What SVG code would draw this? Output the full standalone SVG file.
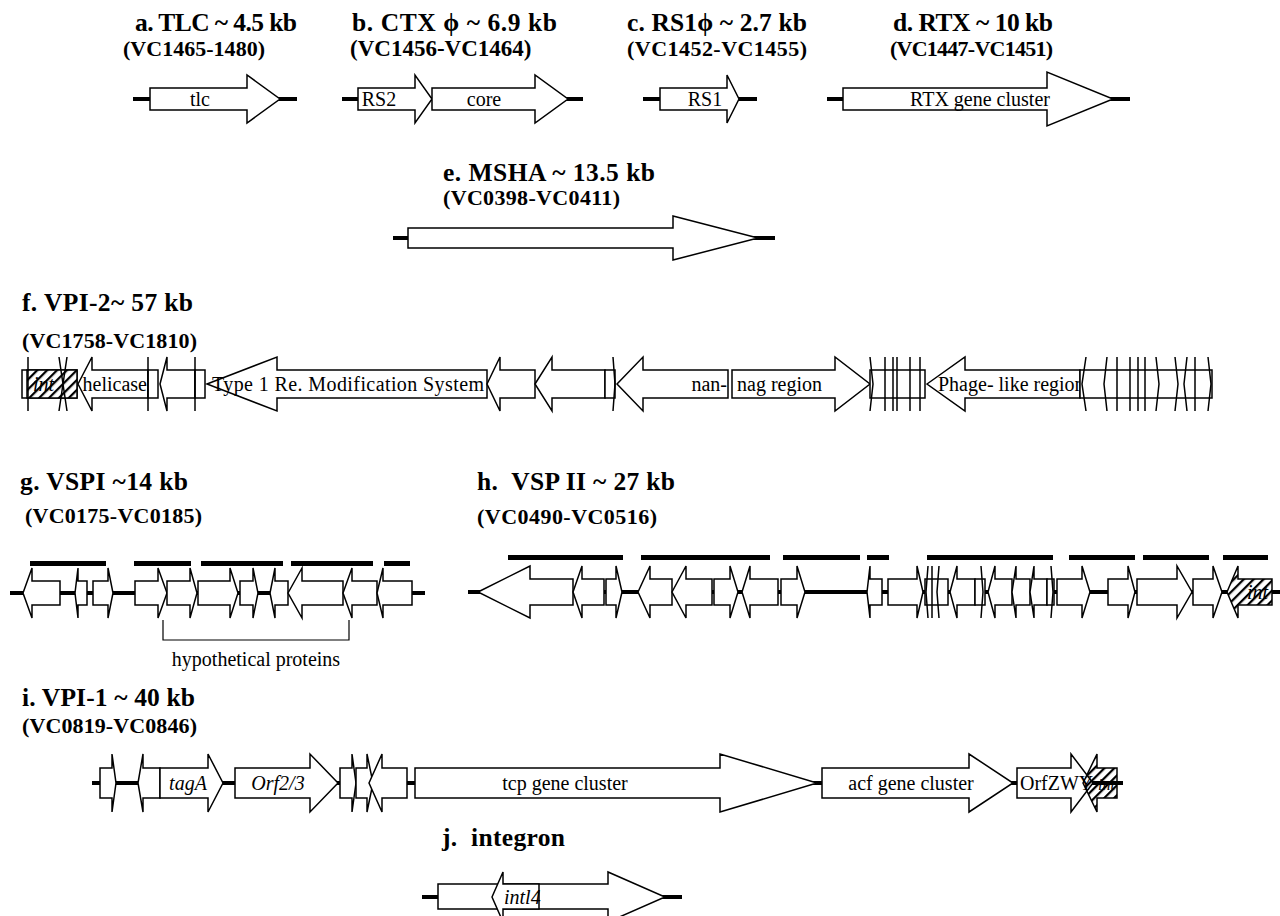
<svg xmlns="http://www.w3.org/2000/svg" width="1280" height="916" viewBox="0 0 1280 916">
<style>
.g{fill:#fff;stroke:#000;stroke-width:1.5;stroke-linejoin:miter}
.h{fill:url(#hatch);stroke:#000;stroke-width:1.5}
.h2{fill:url(#hatch2);stroke:#000;stroke-width:1.5}
.ln{stroke:#000;stroke-width:4;fill:none}
.tk{stroke:#000;stroke-width:1.5;fill:none}
.bar{fill:#000}
.t{font-family:"Liberation Serif","DejaVu Serif",serif;font-weight:bold;font-size:25.5px;white-space:pre}
.s{font-family:"Liberation Serif","DejaVu Serif",serif;font-weight:bold;font-size:22px}
.l{font-family:"Liberation Serif","DejaVu Serif",serif;font-size:20px}
.it{font-style:italic}
</style>
<defs>
<pattern id="hatch" patternUnits="userSpaceOnUse" width="7" height="7" patternTransform="rotate(45)"><rect width="7" height="7" fill="#fff"/><line x1="1" y1="0" x2="1" y2="7" stroke="#000" stroke-width="2.5"/></pattern>
<pattern id="hatch2" patternUnits="userSpaceOnUse" width="7" height="7" patternTransform="rotate(45)"><line x1="1" y1="0" x2="1" y2="7" stroke="#000" stroke-width="2.5"/></pattern>
</defs>
<rect width="1280" height="916" fill="#fff"/>

<g id="connectors">
<line class="ln" x1="133" y1="99" x2="297" y2="99"/>
<line class="ln" x1="342" y1="99" x2="583" y2="99"/>
<line class="ln" x1="643" y1="99" x2="757" y2="99"/>
<line class="ln" x1="827" y1="99" x2="1130" y2="99"/>
<line class="ln" x1="393" y1="238" x2="775" y2="238"/>
<line class="ln" x1="10" y1="593" x2="425" y2="593"/>
<line class="ln" x1="468" y1="592" x2="1280" y2="592"/>
<line class="ln" x1="92" y1="783" x2="1123" y2="783"/>
<line class="ln" x1="422" y1="897" x2="682" y2="897"/>
</g>

<g id="a">
<text class="t" x="135" y="31" textLength="162">a. TLC ~ 4.5 kb</text>
<text class="s" x="123" y="56" textLength="142">(VC1465-1480)</text>
<polygon class="g" points="150,88 247,88 247,75 280,99 247,123 247,110 150,110"/>
<text class="l" x="200" y="106" text-anchor="middle">tlc</text>
</g>

<g id="b">
<text class="t" x="352" y="31" textLength="205">b. CTX ϕ ~ 6.9 kb</text>
<text class="s" x="350" y="56" style="font-size:23px">(VC1456-VC1464)</text>
<polygon class="g" points="358,88 415,88 415,75 432,99 415,123 415,110 358,110"/>
<polygon class="g" points="432,88 535,88 535,75 568,99 535,123 535,110 432,110"/>
<text class="l" x="379" y="106" text-anchor="middle">RS2</text>
<text class="l" x="484" y="106" text-anchor="middle">core</text>
</g>

<g id="c">
<text class="t" x="627" y="31" textLength="180">c. RS1ϕ ~ 2.7 kb</text>
<text class="s" x="627" y="56" textLength="180">(VC1452-VC1455)</text>
<polygon class="g" points="660,88 727,88 727,75 739,99 727,123 727,110 660,110"/>
<text class="l" x="705" y="106" text-anchor="middle">RS1</text>
</g>

<g id="d">
<text class="t" x="893" y="31" textLength="160">d. RTX ~ 10 kb</text>
<text class="s" x="890" y="56" textLength="163">(VC1447-VC1451)</text>
<polygon class="g" points="843,88 1047,88 1047,72 1113,99 1047,126 1047,110 843,110"/>
<text class="l" x="980" y="106" text-anchor="middle">RTX gene cluster</text>
</g>

<g id="e">
<text class="t" x="443" y="181" textLength="212">e. MSHA ~ 13.5 kb</text>
<text class="s" x="443" y="205" textLength="177">(VC0398-VC0411)</text>
<polygon class="g" points="408,228 673,228 673,216 758,238 673,260 673,248 408,248"/>
</g>

<g id="f">
<text class="t" x="22" y="311" textLength="171">f. VPI-2~ 57 kb</text>
<text class="s" x="22" y="348" textLength="175">(VC1758-VC1810)</text>
<rect class="g" x="22" y="370" width="55" height="28"/>
<rect class="h" x="27" y="370" width="50" height="28"/>
<text class="l it" x="33" y="391">int</text>
<path class="tk" d="M28,357 L28,411 M59,357 L67,411 M67,357 L59,411"/>
<polygon class="g" points="78,384 92,357 92,370 148,370 148,398 92,398 92,411"/>
<text class="l" x="147" y="391" text-anchor="end">helicase</text>
<rect class="g" x="148" y="370" width="10" height="28"/>
<path class="tk" d="M148,357 L148,411"/>
<polygon class="g" points="160,384 167,357 167,370 195,370 195,398 167,398 167,411"/>
<rect class="g" x="195" y="370" width="10" height="28"/>
<path class="tk" d="M195,357 L195,411"/>
<polygon class="g" points="207,384 277,357 277,370 487,370 487,398 277,398 277,411"/>
<text class="l" x="212" y="391" textLength="272">Type 1 Re. Modification System</text>
<polygon class="g" points="487,384 500,357 500,370 535,370 535,398 500,398 500,411"/>
<polygon class="g" points="535,384 552,357 552,370 605,370 605,398 552,398 552,411"/>
<rect class="g" x="605" y="370" width="10" height="28"/>
<path class="tk" d="M613,357 L615,384 L613,411"/>
<polygon class="g" points="617,384 643,357 643,370 728,370 728,398 643,398 643,411"/>
<text class="l" x="727" y="391" text-anchor="end">nan-</text>
<polygon class="g" points="732,370 835,370 835,357 870,384 835,411 835,398 732,398"/>
<text class="l" x="737" y="391">nag region</text>
<rect class="g" x="870" y="370" width="55" height="28"/>
<path class="tk" d="M870,357 L873,384 L870,411 M885,357 L885,411 M893,357 L893,411 M897,357 L897,411 M910,357 L910,411 M920,357 L920,411"/>
<polygon class="g" points="927,384 965,357 965,370 1080,370 1080,398 965,398 965,411"/>
<text class="l" x="938" y="391">Phage- like region</text>
<rect class="g" x="1080" y="370" width="132" height="28"/>
<path class="tk" d="M1086,357 L1082,384 L1086,411 M1107,357 L1104,384 L1107,411 M1117,357 L1117,411 M1130,357 L1130,411 M1138,357 L1138,411 M1145,357 L1145,411 M1156,357 L1159,384 L1156,411 M1175,357 L1178,384 L1175,411 M1187,357 L1184,384 L1187,411 M1195,357 L1195,411 M1208,357 L1211,384 L1208,411"/>
</g>

<g id="g">
<text class="t" x="20" y="490" textLength="168">g. VSPI ~14 kb</text>
<text class="s" x="25" y="523" textLength="177">(VC0175-VC0185)</text>
<rect class="bar" x="30" y="561" width="76" height="5"/>
<rect class="bar" x="134" y="561" width="57" height="5"/>
<rect class="bar" x="201" y="561" width="82" height="5"/>
<rect class="bar" x="291" y="561" width="82" height="5"/>
<rect class="bar" x="384" y="561" width="26" height="5"/>
<polygon class="g" points="23,593 32,568 32,581 60,581 60,605 32,605 32,618"/>
<polygon class="g" points="75,593 78,568 78,581 87,581 87,605 78,605 78,618"/>
<polygon class="g" points="93,581 108,581 108,568 113,593 108,618 108,605 93,605"/>
<polygon class="g" points="135,581 158,581 158,568 167,593 158,618 158,605 135,605"/>
<polygon class="g" points="167,581 190,581 190,568 197,593 190,618 190,605 167,605"/>
<polygon class="g" points="198,581 230,581 230,568 238,593 230,618 230,605 198,605"/>
<polygon class="g" points="240,581 253,581 253,568 258,593 253,618 253,605 240,605"/>
<polygon class="g" points="270,593 275,568 275,581 288,581 288,605 275,605 275,618"/>
<polygon class="g" points="288,593 302,568 302,581 343,581 343,605 302,605 302,618"/>
<polygon class="g" points="343,593 352,568 352,581 377,581 377,605 352,605 352,618"/>
<polygon class="g" points="377,593 383,568 383,581 412,581 412,605 383,605 383,618"/>
<polyline class="tk" points="163,620 163,640 349,640 349,620" style="stroke-width:1.2"/>
<text class="l" x="256" y="666" text-anchor="middle">hypothetical proteins</text>
</g>

<g id="h">
<text class="t" x="477" y="490" textLength="198">h.  VSP II ~ 27 kb</text>
<text class="s" x="477" y="524" textLength="180">(VC0490-VC0516)</text>
<rect class="bar" x="508" y="555" width="115" height="5"/>
<rect class="bar" x="641" y="555" width="129" height="5"/>
<rect class="bar" x="783" y="555" width="77" height="5"/>
<rect class="bar" x="867" y="555" width="22" height="5"/>
<rect class="bar" x="927" y="555" width="126" height="5"/>
<rect class="bar" x="1069" y="555" width="66" height="5"/>
<rect class="bar" x="1143" y="555" width="66" height="5"/>
<rect class="bar" x="1223" y="555" width="45" height="5"/>
<polygon class="g" points="478,592 530,566 530,579 573,579 573,605 530,605 530,618"/>
<polygon class="g" points="573,592 582,566 582,579 604,579 604,605 582,605 582,618"/>
<polygon class="g" points="606,579 616,579 616,566 622,592 616,618 616,605 606,605"/>
<polygon class="g" points="638,592 650,566 650,579 672,579 672,605 650,605 650,618"/>
<polygon class="g" points="672,592 686,566 686,579 712,579 712,605 686,605 686,618"/>
<polygon class="g" points="714,579 730,579 730,566 738,592 730,618 730,605 714,605"/>
<polygon class="g" points="742,592 750,566 750,579 778,579 778,605 750,605 750,618"/>
<polygon class="g" points="781,579 797,579 797,566 805,592 797,618 797,605 781,605"/>
<polygon class="g" points="867,592 870,566 870,579 882,579 882,605 870,605 870,618"/>
<polygon class="g" points="888,579 917,579 917,566 923,592 917,618 917,605 888,605"/>
<rect class="g" x="925" y="579" width="23" height="26"/>
<path class="tk" d="M928,566 L926,592 L928,618 M932,566 L932,618 M939,566 L937,592 L939,618"/>
<polygon class="g" points="950,592 957,566 957,579 975,579 975,605 957,605 957,618"/>
<rect class="g" x="975" y="579" width="10" height="26"/>
<path class="tk" d="M981,566 L983,592 L981,618"/>
<polygon class="g" points="988,592 995,566 995,579 1012,579 1012,605 995,605 995,618"/>
<polygon class="g" points="1012,592 1016,566 1016,579 1030,579 1030,605 1016,605 1016,618"/>
<polygon class="g" points="1030,592 1034,566 1034,579 1047,579 1047,605 1034,605 1034,618"/>
<rect class="g" x="1047" y="579" width="7" height="26"/>
<path class="tk" d="M1051,566 L1053,592 L1051,618"/>
<polygon class="g" points="1057,579 1082,579 1082,566 1090,592 1082,618 1082,605 1057,605"/>
<polygon class="g" points="1108,579 1128,579 1128,566 1135,592 1128,618 1128,605 1108,605"/>
<polygon class="g" points="1137,579 1177,579 1177,566 1192,592 1177,618 1177,605 1137,605"/>
<polygon class="g" points="1193,579 1213,579 1213,566 1222,592 1213,618 1213,605 1193,605"/>
<polygon class="h" points="1227,592 1238,566 1238,579 1272,579 1272,605 1238,605 1238,618"/>
<text class="l it" x="1247" y="599">int</text>
</g>

<g id="i">
<text class="t" x="22" y="706" textLength="173">i. VPI-1 ~ 40 kb</text>
<text class="s" x="22" y="733" textLength="175">(VC0819-VC0846)</text>
<polygon class="g" points="100,768 112,768 112,754 116,783 112,812 112,798 100,798"/>
<polygon class="g" points="138,783 143,754 143,768 160,768 160,798 143,798 143,812"/>
<polygon class="g" points="160,768 208,768 208,754 223,783 208,812 208,798 160,798"/>
<text class="l it" x="188" y="790" text-anchor="middle">tagA</text>
<polygon class="g" points="235,768 310,768 310,754 338,783 310,812 310,798 235,798"/>
<text class="l it" x="278" y="790" text-anchor="middle">Orf2/3</text>
<polygon class="g" points="340,768 352,768 352,754 356,783 352,812 352,798 340,798"/>
<polygon class="g" points="356,768 367,768 367,754 373,783 367,812 367,798 356,798"/>
<polygon class="g" points="369,783 382,754 382,768 407,768 407,798 382,798 382,812"/>
<polygon class="g" points="415,768 720,768 720,754 817,783 720,812 720,798 415,798"/>
<text class="l" x="565" y="790" text-anchor="middle">tcp gene cluster</text>
<polygon class="g" points="822,768 969,768 969,754 1013,783 969,812 969,798 822,798"/>
<text class="l" x="911" y="790" text-anchor="middle">acf gene cluster</text>
<polygon class="g" points="1017,768 1071,768 1071,754 1093,783 1071,812 1071,798 1017,798"/>
<text class="l" x="1020" y="790">OrfZWY</text>
<polygon class="h2" points="1083,783 1097,754 1097,768 1117,768 1117,798 1097,798 1097,812"/>
<text class="l it" x="1098" y="790" style="font-size:16px">int</text>
</g>

<g id="j">
<text class="t" x="442" y="846" textLength="123">j.  integron</text>
<polygon class="g" points="438,884 608,884 608,872 665,897 608,922 608,909 438,909"/>
<polygon class="g" points="492,897 503,872 503,884 539,884 539,909 503,909 503,922"/>
<text class="l it" x="504" y="904">intl4</text>
</g>
</svg>
